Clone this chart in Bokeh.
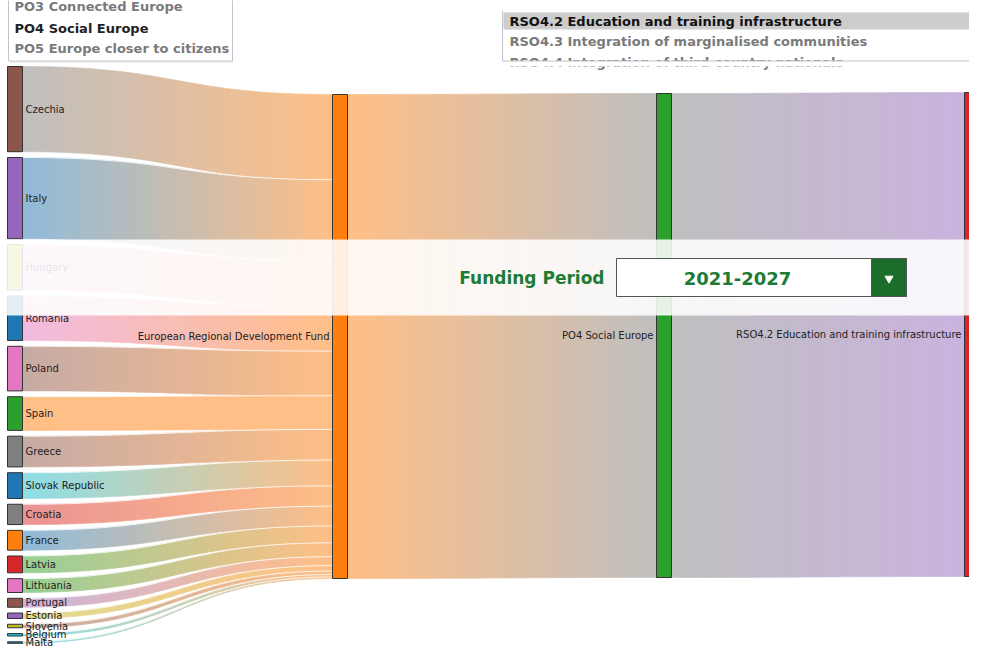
import numpy as np
from bokeh.plotting import figure
from bokeh.models import Range1d
from bokeh.core.properties import value
from bokeh.embed import file_html
from bokeh.resources import INLINE

# ---------------- data ----------------
countries = ["Czechia", "Italy", "Hungary", "Romania", "Poland", "Spain", "Greece",
             "Slovak Republic", "Croatia", "France", "Latvia", "Lithuania", "Portugal",
             "Estonia", "Slovenia", "Belgium", "Malta"]
country_values = [86, 82, 46, 45, 45, 34, 31, 26, 20.5, 20, 17, 14, 9, 5.5, 3.5, 2.5, 1.5]
country_node_colors = ["#8c564b", "#9467bd", "#bcbd22", "#1f77b4", "#e377c2", "#2ca02c",
                       "#7f7f7f", "#1f77b4", "#7f7f7f", "#ff7f0e", "#d62728", "#e377c2",
                       "#8c564b", "#9467bd", "#bcbd22", "#17becf", "#1f77b4"]
country_link_colors = ["#7f7f7f", "#1f77b4", "#e377c2", "#e377c2", "#8c564b", "#ff7f0e",
                       "#8c564b", "#17becf", "#d62728", "#1f77b4", "#2ca02c", "#2ca02c",
                       "#9467bd", "#bcbd22", "#8c564b", "#17becf", "#17becf"]

fund = "European Regional Development Fund"
fund_node_color, fund_link_color = "#ff7f0e", "#ff7f0e"
objective = "PO4 Social Europe"
objective_node_color, objective_link_color = "#2ca02c", "#7f7f7f"
specific = "RSO4.2 Education and training infrastructure"
specific_node_color, specific_link_color = "#d62728", "#9467bd"

period_label = "Funding Period"
period = "2021-2027"
po_items = ["PO3 Connected Europe", "PO4 Social Europe", "PO5 Europe closer to citizens"]
po_selected = "PO4 Social Europe"
rso_items = ["RSO4.2 Education and training infrastructure",
             "RSO4.3 Integration of marginalised communities",
             "RSO4.4 Integration of third-country nationals"]
rso_selected = "RSO4.2 Education and training infrastructure"

# ---------------- layout ----------------
W, H = 969, 649
col_x = [7, 332, 656, 964]
node_w = 15
col_tops = [66, 94, 93, 92]
col_h = 484
gap = 5.8
FONT = value("DejaVu Sans")

total = float(sum(country_values))
k = col_h / total


def rgb(h):
    h = h.lstrip("#")
    return np.array([int(h[i:i + 2], 16) for i in (0, 2, 4)], dtype=float)


def to_hex(c):
    c = np.clip(np.round(c), 0, 255).astype(int)
    return "#%02x%02x%02x" % tuple(c)


def soft(h):
    return rgb(h) * 0.5 + 255 * 0.5


p = figure(width=W, height=H, output_backend="svg", toolbar_location=None,
           x_range=Range1d(0, W), y_range=Range1d(H, 0),
           x_axis_location=None, y_axis_location=None, min_border=0)
p.grid.visible = False
p.outline_line_color = None
p.background_fill_color = "white"
p.border_fill_color = "white"

# node positions
c_top, c_bot = [], []
y = col_tops[0]
for v in country_values:
    c_top.append(y)
    c_bot.append(y + v * k)
    y += v * k + gap

links = []
yt = col_tops[1]
for i, v in enumerate(country_values):
    links.append((col_x[0] + node_w, c_top[i], c_bot[i], col_x[1], yt, yt + v * k,
                  country_link_colors[i], fund_link_color))
    yt += v * k
h_all = total * k
links.append((col_x[1] + node_w, col_tops[1], col_tops[1] + h_all, col_x[2],
              col_tops[2], col_tops[2] + h_all, fund_link_color, objective_link_color))
links.append((col_x[2] + node_w, col_tops[2], col_tops[2] + h_all, col_x[3],
              col_tops[3], col_tops[3] + h_all, objective_link_color, specific_link_color))

N = 48
ts = np.linspace(0, 1, N + 1)
xs_all, ys_all, cols = [], [], []
sep_x, sep_y = [], []
for idx, (x0, a0, b0, x1, a1, b1, c0, c1) in enumerate(links):
    xm = (x0 + x1) / 2
    u = 1 - ts
    bx = x0 * u ** 3 + 3 * xm * u ** 2 * ts + 3 * xm * u * ts ** 2 + x1 * ts ** 3
    wa = u ** 3 + 3 * u ** 2 * ts
    wb = 3 * u * ts ** 2 + ts ** 3
    top = a0 * wa + a1 * wb
    bot = b0 * wa + b1 * wb
    s0, s1 = soft(c0), soft(c1)
    for j in range(N):
        xa, xb = bx[j], bx[j + 1]
        xs_all.append([xa, xb + 0.3, xb + 0.3, xa])
        ys_all.append([top[j], top[j + 1], bot[j + 1], bot[j]])
        tmid = ((xa + xb) / 2 - x0) / (x1 - x0)
        cols.append(to_hex(s0 + (s1 - s0) * tmid))
    if 0 < idx < len(country_values):
        sep_x.append(list(bx))
        sep_y.append(list(top))

p.patches(xs_all, ys_all, fill_color=cols, line_color=cols, line_width=0.6)
p.multi_line(sep_x, sep_y, line_color="white", line_width=1, line_alpha=0.8)

# nodes
p.quad(left=[col_x[0]] * len(countries), right=[col_x[0] + node_w] * len(countries),
       top=c_top, bottom=c_bot, fill_color=country_node_colors,
       line_color="#333333", line_width=1)
p.quad(left=[col_x[1], col_x[2], col_x[3]],
       right=[col_x[1] + node_w, col_x[2] + node_w, col_x[3] + node_w],
       top=[col_tops[1], col_tops[2], col_tops[3]],
       bottom=[col_tops[1] + h_all, col_tops[2] + h_all, col_tops[3] + h_all],
       fill_color=[fund_node_color, objective_node_color, specific_node_color],
       line_color="#333333", line_width=1)

# labels
p.text(x=[col_x[0] + node_w + 3] * len(countries),
       y=[(a + b) / 2 for a, b in zip(c_top, c_bot)], text=countries,
       text_font=FONT, text_font_size="10px", text_color="#222222",
       text_align="left", text_baseline="middle")
p.text(x=[col_x[1] - 3, col_x[2] - 3, col_x[3] - 3],
       y=[col_tops[1] + h_all / 2, col_tops[2] + h_all / 2, col_tops[3] + h_all / 2],
       text=[fund, objective, specific], text_font=FONT, text_font_size="10px",
       text_color="#222222", text_align="right", text_baseline="middle")

# overlay band with the funding period selector
p.quad(left=[0], right=[W], top=[239], bottom=[315], fill_color="white",
       fill_alpha=0.88, line_color=None)
p.text(x=[604], y=[277], text=[period_label], text_font=FONT, text_font_size="17px",
       text_font_style="bold", text_color="#1e7b34", text_align="right",
       text_baseline="middle")
p.quad(left=[616], right=[906], top=[258], bottom=[296], fill_color="white",
       line_color="#555555", line_width=1)
p.quad(left=[871], right=[906], top=[258], bottom=[296], fill_color="#1b6e2a",
       line_color="#555555", line_width=1)
p.scatter(x=[888.5], y=[278], marker="inverted_triangle", size=8,
          fill_color="white", line_color="white")
p.text(x=[737], y=[278], text=[period], text_font=FONT, text_font_size="18px",
       text_font_style="bold", text_color="#1e7b34", text_align="center",
       text_baseline="middle")

# top-left list box
p.quad(left=[8], right=[232], top=[-5], bottom=[60], fill_color="white", line_color=None)
p.text(x=[14] * len(po_items), y=[6, 28, 48], text=po_items, text_font=FONT,
       text_font_size="13px", text_font_style="bold",
       text_color=["#222222" if s == po_selected else "#7a7a7a" for s in po_items],
       text_align="left", text_baseline="middle")
p.multi_line([[8, 8, 232, 232]], [[-5, 60.5, 60.5, -5]], line_color="#c4c4c8", line_width=1)
p.multi_line([[9, 232]], [[61.5, 61.5]], line_color="#dcdce0", line_width=1)

# top-right list box
p.quad(left=[502], right=[1000], top=[10], bottom=[60], fill_color="white", line_color=None)
p.quad(left=[503], right=[1000], top=[12], bottom=[29], fill_color="#cdcdcd", line_color=None)
p.text(x=[509] * len(rso_items), y=[20.5, 40.5, 61.5], text=rso_items, text_font=FONT,
       text_font_size="13px", text_font_style="bold",
       text_color=["#111111" if s == rso_selected else "#7a7a7a" for s in rso_items],
       text_align="left", text_baseline="middle")
p.quad(left=[500], right=[1000], top=[60.5], bottom=[66], fill_color="white", line_color=None)
p.multi_line([[502, 502, 1000]], [[10, 60.5, 60.5]], line_color="#c4c4c8", line_width=1)

open("out.html", "w").write(file_html(p, INLINE))
